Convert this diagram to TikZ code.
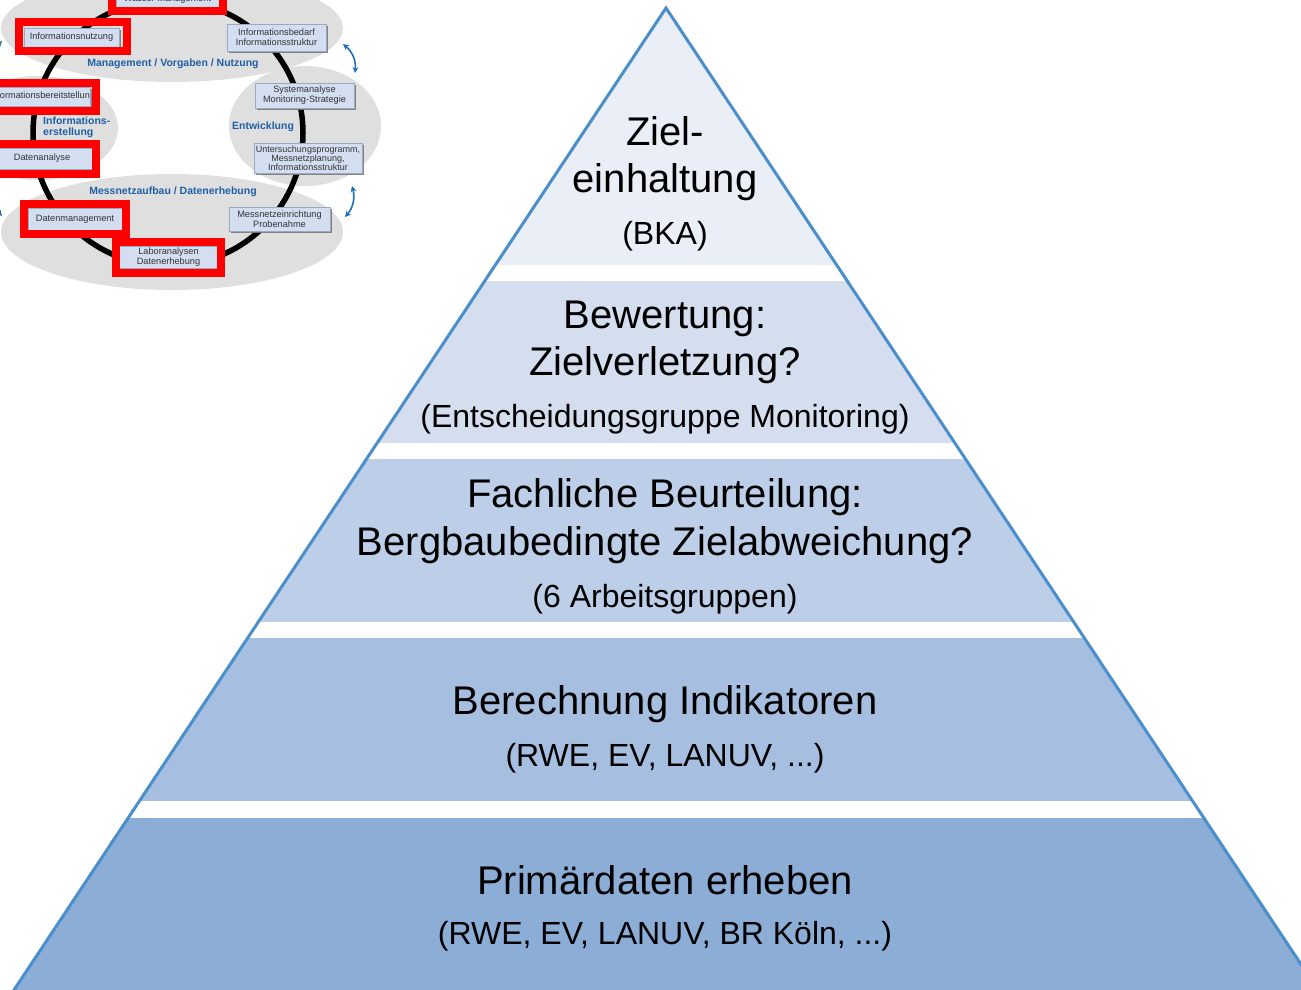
\documentclass[tikz,border=0pt]{standalone}
\usepackage{fontspec}
\setmainfont{Liberation Sans}
\usetikzlibrary{arrows.meta,shadows}

% pyramid colours
\definecolor{pyrline}{HTML}{4A8FCB}
\definecolor{bandA}{HTML}{E9EEF7}
\definecolor{bandB}{HTML}{D4DEEF}
\definecolor{bandC}{HTML}{BDCFE8}
\definecolor{bandD}{HTML}{A6BFE0}
\definecolor{bandE}{HTML}{8BADD6}
% monitoring cycle colours
\definecolor{cyclegrey}{HTML}{DFDFDF}
\definecolor{boxfill}{HTML}{D3DEF1}
\definecolor{boxedge}{HTML}{9AA8C0}
\definecolor{boxshadow}{HTML}{7A7A7A}
\definecolor{boxtext}{HTML}{333333}
\definecolor{labelblue}{HTML}{1F5FA6}
\definecolor{arrowblue}{HTML}{1E6FB8}
\definecolor{markred}{HTML}{FF0000}

\newcommand\headsize{\fontsize{40}{48}\selectfont}
\newcommand\subsize{\fontsize{32}{38}\selectfont}
\newcommand\boxsize{\fontsize{9.2}{10}\selectfont}
\newcommand\lblsize{\fontsize{10.5}{11}\selectfont\bfseries}

\begin{document}
\begin{tikzpicture}[x=1pt, y=-1pt,
  bandtext/.style={font=\headsize, anchor=base, inner sep=0pt, text=black},
  bandsub/.style={font=\subsize, anchor=base, inner sep=0pt, text=black},
  inbox/.style={draw=boxedge, line width=0.6pt, fill=boxfill, inner sep=0pt,
    align=center, font=\boxsize, text=boxtext,
    drop shadow={shadow xshift=1.6pt, shadow yshift=-1.6pt, fill=boxshadow, opacity=0.9}},
  boxlabel/.style={font=\boxsize, text=boxtext, inner sep=0pt},
  redmark/.style={draw=markred, line width=8pt},
  phaselabel/.style={font=\lblsize, text=labelblue, inner sep=0pt},
  cyclering/.style={draw=black, line width=5.5pt},
  cyclearrow/.style={draw=arrowblue, line width=1.6pt,
    {Stealth[length=6pt,width=6pt]}-{Stealth[length=6pt,width=6pt]}},
  bubble/.style={fill=cyclegrey}
]
\useasboundingbox (0,0) rectangle (1301,990);
\clip (0,0) rectangle (1301,990);

% ---------------- pyramid ----------------
\coordinate (apex) at (666,8);
\coordinate (baseL) at (-4,1017);
\coordinate (baseR) at (1336,1017);
\begin{scope}
  \clip (apex) -- (baseL) -- (baseR) -- cycle;
  \fill[bandA] (0,0) rectangle (1301,265);
  \fill[bandB] (0,281) rectangle (1301,443);
  \fill[bandC] (0,459) rectangle (1301,622);
  \fill[bandD] (0,638) rectangle (1301,801);
  \fill[bandE] (0,818) rectangle (1301,1000);
\end{scope}
\draw[pyrline, line width=3pt, line join=miter] (baseL) -- (apex) -- (baseR);

% level 1
\node[bandtext] (zielA) at (665,145) {Ziel-};
\node[bandtext] (zielB) at (665,192) {einhaltung};
\node[bandsub]  (zielC) at (665,244) {(BKA)};
% level 2
\node[bandtext] (bewA) at (665,328) {Bewertung:};
\node[bandtext] (bewB) at (665,375) {Zielverletzung?};
\node[bandsub]  (bewC) at (665,427) {(Entscheidungsgruppe Monitoring)};
% level 3
\node[bandtext] (fachA) at (665,507) {Fachliche Beurteilung:};
\node[bandtext] (fachB) at (665,555) {Bergbaubedingte Zielabweichung?};
\node[bandsub]  (fachC) at (665,607) {(6 Arbeitsgruppen)};
% level 4
\node[bandtext] (berA) at (665,714) {Berechnung Indikatoren};
\node[bandsub]  (berB) at (665,766) {(RWE, EV, LANUV, ...)};
% level 5
\node[bandtext] (primA) at (665,894) {Primärdaten erheben};
\node[bandsub]  (primB) at (665,944) {(RWE, EV, LANUV, BR Köln, ...)};

% ---------------- monitoring cycle ----------------
% phase bubbles
\fill[bubble] (172,28) ellipse [x radius=171pt, y radius=54pt];
\fill[bubble] (305,126) ellipse [x radius=76pt, y radius=60pt];
\fill[bubble] (38,128) ellipse [x radius=80pt, y radius=52pt];
\fill[bubble] (172,232) ellipse [x radius=171pt, y radius=58pt];

% the cycle itself
\draw[cyclering] (168,133) ellipse [x radius=135pt, y radius=133pt];

% steps of the cycle
\node[inbox, minimum width=103, minimum height=20] (wasser) at (167.5,-1) {Wasser Management};
\node[inbox, minimum width=95, minimum height=19] (nutzung) at (71.5,37.5) {Informationsnutzung};
\node[inbox, minimum width=99, minimum height=27] (bedarf) at (276.5,37.5) {Informationsbedarf\\Informationsstruktur};
\node[inbox, minimum width=99, minimum height=25] (system) at (304.5,95.5) {Systemanalyse\\Monitoring-Strategie};
\node[inbox, minimum width=108, minimum height=30, font=\fontsize{9}{9}\selectfont] (unters) at (308,158) {Untersuchungsprogramm,\\Messnetzplanung,\\Informationsstruktur};
\node[inbox, minimum width=101, minimum height=24] (messein) at (279.5,219) {Messnetzeinrichtung\\Probenahme};
\node[inbox, minimum width=98, minimum height=22] (labor) at (168.5,257.5) {Laboranalysen\\Datenerhebung};
\node[inbox, minimum width=94, minimum height=22] (datmgmt) at (75,219) {Datenmanagement};
\node[inbox, minimum width=112, minimum height=21] (datana) at (36,158.5) {};
\node[boxlabel] (datanatext) at (42,158.5) {Datenanalyse};
\node[inbox, minimum width=110, minimum height=19] (bereit) at (35,96.5) {};
\begin{scope}
  \clip ([xshift=-40pt]bereit.south west) rectangle ([xshift=-1pt]bereit.north east);
  \node[boxlabel, anchor=west] (bereittext) at (-10.5,96.5) {Informationsbereitstellung};
\end{scope}

% highlighted steps
\draw[redmark] (112,-8) rectangle (223,11);
\draw[redmark] (19,22) rectangle (127,51);
\draw[redmark] (-10,83) rectangle (96,111);
\draw[redmark] (-10,144) rectangle (96,174);
\draw[redmark] (24,204) rectangle (126,234);
\draw[redmark] (116,242) rectangle (221,273);

% phase names
\node[phaselabel] (phaseMgmt) at (173,64) {Management / Vorgaben / Nutzung};
\node[phaselabel, anchor=west, align=left] (phaseInfo) at (43,127) {Informations-\\erstellung};
\node[phaselabel] (phaseDev) at (263,127) {Entwicklung};
\node[phaselabel] (phaseNet) at (173,192) {Messnetzaufbau / Datenerhebung};

% feedback arrows between phases
\coordinate (fbA1) at (343,44);
\coordinate (fbA2) at (355,73);
\coordinate (fbB1) at (352,186);
\coordinate (fbB2) at (345,217);
\coordinate (fbC1) at (-12,72);
\coordinate (fbC2) at (2,41);
\coordinate (fbD1) at (-10,185);
\coordinate (fbD2) at (2,216);
\draw[cyclearrow] (fbA1) to[bend left=28] (fbA2);
\draw[cyclearrow] (fbB1) to[bend left=28] (fbB2);
\draw[cyclearrow] (fbC1) to[bend left=20] (fbC2);
\draw[cyclearrow] (fbD1) to[bend right=20] (fbD2);
\end{tikzpicture}
\end{document}
